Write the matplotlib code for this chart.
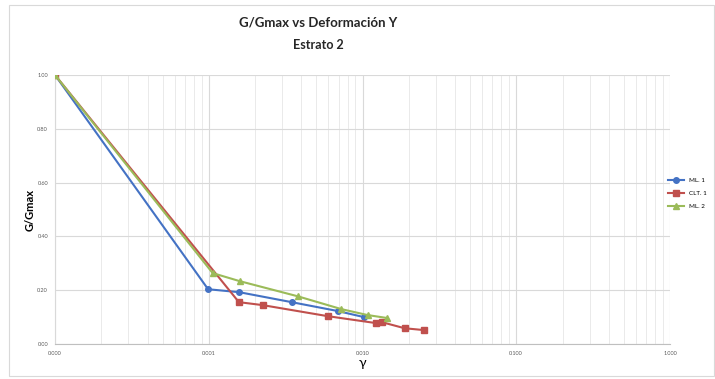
import matplotlib
matplotlib.use("Agg")
import matplotlib.pyplot as plt
from matplotlib.patches import Rectangle
from matplotlib.ticker import FixedLocator, FuncFormatter, LogLocator, NullFormatter

# G/Gmax vs shear strain, three series
gamma_1 = [0.0001, 0.00099, 0.00158, 0.00346, 0.0069, 0.0103]
ggmax_1 = [1.00, 0.204, 0.193, 0.156, 0.123, 0.100]

gamma_2 = [0.0001, 0.00157, 0.00224, 0.00593, 0.0123, 0.0133, 0.0188, 0.0253]
ggmax_2 = [1.00, 0.156, 0.145, 0.104, 0.078, 0.082, 0.059, 0.052]

gamma_3 = [0.0001, 0.00106, 0.00159, 0.00378, 0.0073, 0.0108, 0.0145]
ggmax_3 = [1.00, 0.264, 0.234, 0.178, 0.130, 0.108, 0.097]

labels = ["ML. 1", "CLT. 1", "ML. 2"]
x_ticks = [0.0001, 0.001, 0.01, 0.1, 1.0]
y_ticks = [0.0, 0.2, 0.4, 0.6, 0.8, 1.0]

plt.rcParams["font.family"] = ["Lato", "DejaVu Sans"]

fig = plt.figure(figsize=(7.15, 3.79), dpi=100)
ax = fig.add_axes([0.077, 0.092, 0.860, 0.710])

ax.plot(gamma_1, ggmax_1, color="#4472C4", marker="o", markersize=4,
        linewidth=1.5, label=labels[0], zorder=3)
ax.plot(gamma_2, ggmax_2, color="#C0504D", marker="s", markersize=5,
        linewidth=1.5, label=labels[1], zorder=3)
ax.plot(gamma_3, ggmax_3, color="#9BBB59", marker="^", markersize=5,
        linewidth=1.5, label=labels[2], zorder=3)

ax.set_xscale("log")
ax.set_xlim(0.0001, 1.0)
ax.set_ylim(0.0, 1.0)
ax.xaxis.set_major_locator(FixedLocator(x_ticks))
ax.xaxis.set_major_formatter(FuncFormatter(lambda v, p: f"{v:.3f}"))
ax.xaxis.set_minor_locator(LogLocator(base=10, subs=range(2, 10)))
ax.xaxis.set_minor_formatter(NullFormatter())
ax.set_yticks(y_ticks)
ax.yaxis.set_major_formatter(FuncFormatter(lambda v, p: f"{v:.2f}"))

ax.grid(True, which="major", color="#D9D9D9", linewidth=0.8)
ax.grid(True, which="minor", axis="x", color="#E6E6E6", linewidth=0.6)
ax.set_axisbelow(True)
for side in ["top", "right"]:
    ax.spines[side].set_visible(False)
ax.spines["left"].set_color("#D9D9D9")
ax.spines["bottom"].set_color("#BFBFBF")
ax.tick_params(which="both", length=0, labelsize=4, colors="#595959", pad=5)

ax.set_ylabel("G/Gmax", fontsize=8, fontweight="bold", labelpad=1)
ax.set_xlabel("γ", fontsize=10, labelpad=1)

fig.text(0.445, 0.94, "G/Gmax vs Deformación Y", ha="center", va="center",
         fontsize=9.5, fontweight="bold", color="#262626")
fig.text(0.445, 0.88, "Estrato 2", ha="center", va="center",
         fontsize=9, fontweight="bold", color="#262626")

ax.legend(loc="center left", bbox_to_anchor=(0.985, 0.56), frameon=False,
          fontsize=4.5, handlelength=2.5, labelspacing=1.2, borderaxespad=0.8)

fig.patches.append(Rectangle((0.013, 0.008), 0.985, 0.98, transform=fig.transFigure,
                             fill=False, edgecolor="#D9D9D9", linewidth=0.8))

fig.savefig("out.png", dpi=100)
